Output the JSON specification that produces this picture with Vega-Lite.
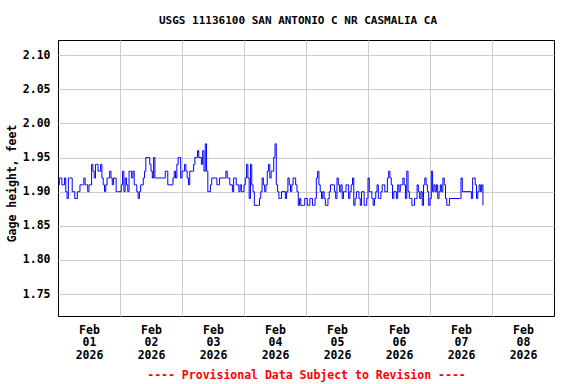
{
"$schema": "https://vega.github.io/schema/vega-lite/v6.json",
"width": 496, "height": 276,
"autosize": {"type": "none"},
"padding": {"left": 58, "top": 40, "right": 22, "bottom": 68},
"background": "white",
"config": {"font": "DejaVu Sans Mono", "view": {"stroke": "black", "strokeWidth": 1}},
"title": {"text": "USGS 11136100 SAN ANTONIO C NR CASMALIA CA", "font": "DejaVu Sans Mono", "fontSize": 11, "fontWeight": "bold", "color": "black", "offset": 14, "dx": -8},
"data": {"values": [
{"t":"2026-02-01T00:00:00Z","v":1.91},{"t":"2026-02-01T00:30:00Z","v":1.92},{"t":"2026-02-01T01:00:00Z","v":1.92},{"t":"2026-02-01T01:30:00Z","v":1.91},{"t":"2026-02-01T02:00:00Z","v":1.91},{"t":"2026-02-01T02:30:00Z","v":1.92},{"t":"2026-02-01T03:00:00Z","v":1.90},{"t":"2026-02-01T03:30:00Z","v":1.89},{"t":"2026-02-01T04:00:00Z","v":1.92},{"t":"2026-02-01T04:30:00Z","v":1.92},{"t":"2026-02-01T05:00:00Z","v":1.92},{"t":"2026-02-01T05:30:00Z","v":1.90},{"t":"2026-02-01T06:00:00Z","v":1.90},{"t":"2026-02-01T06:30:00Z","v":1.89},{"t":"2026-02-01T07:00:00Z","v":1.89},{"t":"2026-02-01T07:30:00Z","v":1.90},{"t":"2026-02-01T08:00:00Z","v":1.90},{"t":"2026-02-01T08:30:00Z","v":1.91},{"t":"2026-02-01T09:00:00Z","v":1.91},{"t":"2026-02-01T09:30:00Z","v":1.91},{"t":"2026-02-01T10:00:00Z","v":1.92},{"t":"2026-02-01T10:30:00Z","v":1.91},{"t":"2026-02-01T11:00:00Z","v":1.91},{"t":"2026-02-01T11:30:00Z","v":1.90},{"t":"2026-02-01T12:00:00Z","v":1.91},{"t":"2026-02-01T12:30:00Z","v":1.91},{"t":"2026-02-01T13:00:00Z","v":1.94},{"t":"2026-02-01T13:30:00Z","v":1.93},{"t":"2026-02-01T14:00:00Z","v":1.92},{"t":"2026-02-01T14:30:00Z","v":1.94},{"t":"2026-02-01T15:00:00Z","v":1.94},{"t":"2026-02-01T15:30:00Z","v":1.93},{"t":"2026-02-01T16:00:00Z","v":1.93},{"t":"2026-02-01T16:30:00Z","v":1.94},{"t":"2026-02-01T17:00:00Z","v":1.92},{"t":"2026-02-01T17:30:00Z","v":1.91},{"t":"2026-02-01T18:00:00Z","v":1.90},{"t":"2026-02-01T18:30:00Z","v":1.91},{"t":"2026-02-01T19:00:00Z","v":1.92},{"t":"2026-02-01T19:30:00Z","v":1.92},{"t":"2026-02-01T20:00:00Z","v":1.93},{"t":"2026-02-01T20:30:00Z","v":1.92},{"t":"2026-02-01T21:00:00Z","v":1.91},{"t":"2026-02-01T21:30:00Z","v":1.92},{"t":"2026-02-01T22:00:00Z","v":1.92},{"t":"2026-02-01T22:30:00Z","v":1.90},{"t":"2026-02-01T23:00:00Z","v":1.90},{"t":"2026-02-01T23:30:00Z","v":1.90},
{"t":"2026-02-02T00:00:00Z","v":1.90},{"t":"2026-02-02T00:30:00Z","v":1.91},{"t":"2026-02-02T01:00:00Z","v":1.93},{"t":"2026-02-02T01:30:00Z","v":1.90},{"t":"2026-02-02T02:00:00Z","v":1.92},{"t":"2026-02-02T02:30:00Z","v":1.91},{"t":"2026-02-02T03:00:00Z","v":1.90},{"t":"2026-02-02T03:30:00Z","v":1.93},{"t":"2026-02-02T04:00:00Z","v":1.93},{"t":"2026-02-02T04:30:00Z","v":1.92},{"t":"2026-02-02T05:00:00Z","v":1.93},{"t":"2026-02-02T05:30:00Z","v":1.91},{"t":"2026-02-02T06:00:00Z","v":1.91},{"t":"2026-02-02T06:30:00Z","v":1.90},{"t":"2026-02-02T07:00:00Z","v":1.89},{"t":"2026-02-02T07:30:00Z","v":1.90},{"t":"2026-02-02T08:00:00Z","v":1.91},{"t":"2026-02-02T08:30:00Z","v":1.91},{"t":"2026-02-02T09:00:00Z","v":1.92},{"t":"2026-02-02T09:30:00Z","v":1.93},{"t":"2026-02-02T10:00:00Z","v":1.95},{"t":"2026-02-02T10:30:00Z","v":1.95},{"t":"2026-02-02T11:00:00Z","v":1.95},{"t":"2026-02-02T11:30:00Z","v":1.94},{"t":"2026-02-02T12:00:00Z","v":1.93},{"t":"2026-02-02T12:30:00Z","v":1.92},{"t":"2026-02-02T13:00:00Z","v":1.95},{"t":"2026-02-02T13:30:00Z","v":1.92},{"t":"2026-02-02T14:00:00Z","v":1.92},{"t":"2026-02-02T15:00:00Z","v":1.92},{"t":"2026-02-02T16:00:00Z","v":1.92},{"t":"2026-02-02T17:00:00Z","v":1.92},{"t":"2026-02-02T17:30:00Z","v":1.93},{"t":"2026-02-02T18:00:00Z","v":1.93},{"t":"2026-02-02T18:30:00Z","v":1.91},{"t":"2026-02-02T19:00:00Z","v":1.91},{"t":"2026-02-02T20:00:00Z","v":1.91},{"t":"2026-02-02T20:30:00Z","v":1.92},{"t":"2026-02-02T21:00:00Z","v":1.93},{"t":"2026-02-02T21:30:00Z","v":1.92},{"t":"2026-02-02T22:00:00Z","v":1.94},{"t":"2026-02-02T22:30:00Z","v":1.95},{"t":"2026-02-02T23:00:00Z","v":1.95},{"t":"2026-02-02T23:30:00Z","v":1.92},
{"t":"2026-02-03T00:00:00Z","v":1.93},{"t":"2026-02-03T00:30:00Z","v":1.93},{"t":"2026-02-03T01:00:00Z","v":1.94},{"t":"2026-02-03T01:30:00Z","v":1.93},{"t":"2026-02-03T02:00:00Z","v":1.92},{"t":"2026-02-03T02:30:00Z","v":1.91},{"t":"2026-02-03T03:00:00Z","v":1.93},{"t":"2026-02-03T04:00:00Z","v":1.93},{"t":"2026-02-03T04:30:00Z","v":1.94},{"t":"2026-02-03T05:00:00Z","v":1.95},{"t":"2026-02-03T05:30:00Z","v":1.95},{"t":"2026-02-03T06:00:00Z","v":1.96},{"t":"2026-02-03T06:30:00Z","v":1.95},{"t":"2026-02-03T07:00:00Z","v":1.95},{"t":"2026-02-03T07:30:00Z","v":1.94},{"t":"2026-02-03T08:00:00Z","v":1.96},{"t":"2026-02-03T08:30:00Z","v":1.93},{"t":"2026-02-03T09:00:00Z","v":1.97},{"t":"2026-02-03T09:30:00Z","v":1.93},{"t":"2026-02-03T10:00:00Z","v":1.90},{"t":"2026-02-03T10:30:00Z","v":1.90},{"t":"2026-02-03T11:00:00Z","v":1.91},{"t":"2026-02-03T11:30:00Z","v":1.92},{"t":"2026-02-03T13:00:00Z","v":1.92},{"t":"2026-02-03T13:30:00Z","v":1.91},{"t":"2026-02-03T14:00:00Z","v":1.91},{"t":"2026-02-03T14:30:00Z","v":1.92},{"t":"2026-02-03T16:30:00Z","v":1.92},{"t":"2026-02-03T17:00:00Z","v":1.93},{"t":"2026-02-03T17:30:00Z","v":1.92},{"t":"2026-02-03T18:00:00Z","v":1.92},{"t":"2026-02-03T18:30:00Z","v":1.91},{"t":"2026-02-03T19:00:00Z","v":1.91},{"t":"2026-02-03T19:30:00Z","v":1.90},{"t":"2026-02-03T20:00:00Z","v":1.92},{"t":"2026-02-03T20:30:00Z","v":1.92},{"t":"2026-02-03T21:00:00Z","v":1.91},{"t":"2026-02-03T21:30:00Z","v":1.91},{"t":"2026-02-03T22:00:00Z","v":1.90},{"t":"2026-02-03T22:30:00Z","v":1.91},{"t":"2026-02-03T23:00:00Z","v":1.90},{"t":"2026-02-03T23:30:00Z","v":1.90},
{"t":"2026-02-04T00:00:00Z","v":1.91},{"t":"2026-02-04T00:30:00Z","v":1.92},{"t":"2026-02-04T01:00:00Z","v":1.94},{"t":"2026-02-04T01:30:00Z","v":1.92},{"t":"2026-02-04T02:00:00Z","v":1.89},{"t":"2026-02-04T02:30:00Z","v":1.94},{"t":"2026-02-04T03:00:00Z","v":1.91},{"t":"2026-02-04T03:30:00Z","v":1.90},{"t":"2026-02-04T04:00:00Z","v":1.88},{"t":"2026-02-04T05:30:00Z","v":1.88},{"t":"2026-02-04T06:00:00Z","v":1.89},{"t":"2026-02-04T06:30:00Z","v":1.90},{"t":"2026-02-04T07:00:00Z","v":1.92},{"t":"2026-02-04T07:30:00Z","v":1.91},{"t":"2026-02-04T08:00:00Z","v":1.90},{"t":"2026-02-04T08:30:00Z","v":1.91},{"t":"2026-02-04T09:00:00Z","v":1.93},{"t":"2026-02-04T09:30:00Z","v":1.94},{"t":"2026-02-04T10:00:00Z","v":1.92},{"t":"2026-02-04T10:30:00Z","v":1.93},{"t":"2026-02-04T11:00:00Z","v":1.93},{"t":"2026-02-04T11:30:00Z","v":1.95},{"t":"2026-02-04T12:00:00Z","v":1.97},{"t":"2026-02-04T12:30:00Z","v":1.91},{"t":"2026-02-04T13:00:00Z","v":1.90},{"t":"2026-02-04T13:30:00Z","v":1.89},{"t":"2026-02-04T14:00:00Z","v":1.89},{"t":"2026-02-04T14:30:00Z","v":1.90},{"t":"2026-02-04T15:30:00Z","v":1.90},{"t":"2026-02-04T16:00:00Z","v":1.89},{"t":"2026-02-04T16:30:00Z","v":1.90},{"t":"2026-02-04T17:00:00Z","v":1.92},{"t":"2026-02-04T17:30:00Z","v":1.91},{"t":"2026-02-04T18:00:00Z","v":1.90},{"t":"2026-02-04T18:30:00Z","v":1.91},{"t":"2026-02-04T19:00:00Z","v":1.92},{"t":"2026-02-04T19:30:00Z","v":1.92},{"t":"2026-02-04T20:00:00Z","v":1.91},{"t":"2026-02-04T20:30:00Z","v":1.90},{"t":"2026-02-04T21:00:00Z","v":1.88},{"t":"2026-02-04T21:30:00Z","v":1.89},{"t":"2026-02-04T22:00:00Z","v":1.88},{"t":"2026-02-04T23:00:00Z","v":1.88},{"t":"2026-02-04T23:30:00Z","v":1.89},
{"t":"2026-02-05T00:00:00Z","v":1.89},{"t":"2026-02-05T00:30:00Z","v":1.88},{"t":"2026-02-05T01:00:00Z","v":1.88},{"t":"2026-02-05T01:30:00Z","v":1.89},{"t":"2026-02-05T02:00:00Z","v":1.89},{"t":"2026-02-05T02:30:00Z","v":1.88},{"t":"2026-02-05T03:00:00Z","v":1.88},{"t":"2026-02-05T03:30:00Z","v":1.89},{"t":"2026-02-05T04:00:00Z","v":1.92},{"t":"2026-02-05T04:30:00Z","v":1.93},{"t":"2026-02-05T05:00:00Z","v":1.91},{"t":"2026-02-05T05:30:00Z","v":1.90},{"t":"2026-02-05T06:00:00Z","v":1.89},{"t":"2026-02-05T06:30:00Z","v":1.90},{"t":"2026-02-05T07:00:00Z","v":1.89},{"t":"2026-02-05T07:30:00Z","v":1.88},{"t":"2026-02-05T08:00:00Z","v":1.88},{"t":"2026-02-05T08:30:00Z","v":1.89},{"t":"2026-02-05T09:00:00Z","v":1.90},{"t":"2026-02-05T09:30:00Z","v":1.91},{"t":"2026-02-05T10:30:00Z","v":1.91},{"t":"2026-02-05T11:00:00Z","v":1.90},{"t":"2026-02-05T11:30:00Z","v":1.89},{"t":"2026-02-05T12:00:00Z","v":1.92},{"t":"2026-02-05T12:30:00Z","v":1.91},{"t":"2026-02-05T13:00:00Z","v":1.90},{"t":"2026-02-05T13:30:00Z","v":1.91},{"t":"2026-02-05T14:00:00Z","v":1.89},{"t":"2026-02-05T14:30:00Z","v":1.90},{"t":"2026-02-05T15:00:00Z","v":1.90},{"t":"2026-02-05T15:30:00Z","v":1.91},{"t":"2026-02-05T16:00:00Z","v":1.91},{"t":"2026-02-05T16:30:00Z","v":1.89},{"t":"2026-02-05T17:00:00Z","v":1.90},{"t":"2026-02-05T17:30:00Z","v":1.91},{"t":"2026-02-05T18:00:00Z","v":1.92},{"t":"2026-02-05T18:30:00Z","v":1.88},{"t":"2026-02-05T19:00:00Z","v":1.89},{"t":"2026-02-05T19:30:00Z","v":1.90},{"t":"2026-02-05T20:00:00Z","v":1.90},{"t":"2026-02-05T20:30:00Z","v":1.89},{"t":"2026-02-05T21:00:00Z","v":1.88},{"t":"2026-02-05T21:30:00Z","v":1.90},{"t":"2026-02-05T22:00:00Z","v":1.90},{"t":"2026-02-05T22:30:00Z","v":1.88},{"t":"2026-02-05T23:00:00Z","v":1.88},{"t":"2026-02-05T23:30:00Z","v":1.89},
{"t":"2026-02-06T00:00:00Z","v":1.92},{"t":"2026-02-06T00:30:00Z","v":1.90},{"t":"2026-02-06T01:00:00Z","v":1.90},{"t":"2026-02-06T01:30:00Z","v":1.89},{"t":"2026-02-06T02:00:00Z","v":1.88},{"t":"2026-02-06T02:30:00Z","v":1.89},{"t":"2026-02-06T03:00:00Z","v":1.90},{"t":"2026-02-06T03:30:00Z","v":1.91},{"t":"2026-02-06T04:00:00Z","v":1.89},{"t":"2026-02-06T04:30:00Z","v":1.89},{"t":"2026-02-06T05:00:00Z","v":1.90},{"t":"2026-02-06T05:30:00Z","v":1.91},{"t":"2026-02-06T06:00:00Z","v":1.91},{"t":"2026-02-06T06:30:00Z","v":1.90},{"t":"2026-02-06T07:00:00Z","v":1.90},{"t":"2026-02-06T07:30:00Z","v":1.92},{"t":"2026-02-06T08:00:00Z","v":1.93},{"t":"2026-02-06T08:30:00Z","v":1.92},{"t":"2026-02-06T09:00:00Z","v":1.91},{"t":"2026-02-06T09:30:00Z","v":1.89},{"t":"2026-02-06T10:00:00Z","v":1.90},{"t":"2026-02-06T10:30:00Z","v":1.90},{"t":"2026-02-06T11:00:00Z","v":1.89},{"t":"2026-02-06T11:30:00Z","v":1.91},{"t":"2026-02-06T12:00:00Z","v":1.90},{"t":"2026-02-06T12:30:00Z","v":1.91},{"t":"2026-02-06T13:00:00Z","v":1.91},{"t":"2026-02-06T13:30:00Z","v":1.92},{"t":"2026-02-06T14:00:00Z","v":1.91},{"t":"2026-02-06T14:30:00Z","v":1.89},{"t":"2026-02-06T15:00:00Z","v":1.93},{"t":"2026-02-06T15:30:00Z","v":1.90},{"t":"2026-02-06T16:00:00Z","v":1.89},{"t":"2026-02-06T16:30:00Z","v":1.89},{"t":"2026-02-06T17:00:00Z","v":1.88},{"t":"2026-02-06T17:30:00Z","v":1.88},{"t":"2026-02-06T18:00:00Z","v":1.89},{"t":"2026-02-06T18:30:00Z","v":1.89},{"t":"2026-02-06T19:00:00Z","v":1.91},{"t":"2026-02-06T19:30:00Z","v":1.90},{"t":"2026-02-06T20:00:00Z","v":1.89},{"t":"2026-02-06T20:30:00Z","v":1.90},{"t":"2026-02-06T21:00:00Z","v":1.88},{"t":"2026-02-06T21:30:00Z","v":1.91},{"t":"2026-02-06T22:00:00Z","v":1.92},{"t":"2026-02-06T22:30:00Z","v":1.91},{"t":"2026-02-06T23:00:00Z","v":1.90},{"t":"2026-02-06T23:30:00Z","v":1.88},
{"t":"2026-02-07T00:00:00Z","v":1.89},{"t":"2026-02-07T00:30:00Z","v":1.93},{"t":"2026-02-07T01:00:00Z","v":1.90},{"t":"2026-02-07T01:30:00Z","v":1.91},{"t":"2026-02-07T02:00:00Z","v":1.90},{"t":"2026-02-07T02:30:00Z","v":1.91},{"t":"2026-02-07T03:00:00Z","v":1.89},{"t":"2026-02-07T03:30:00Z","v":1.90},{"t":"2026-02-07T04:00:00Z","v":1.91},{"t":"2026-02-07T04:30:00Z","v":1.90},{"t":"2026-02-07T05:00:00Z","v":1.92},{"t":"2026-02-07T05:30:00Z","v":1.91},{"t":"2026-02-07T06:00:00Z","v":1.89},{"t":"2026-02-07T06:30:00Z","v":1.88},{"t":"2026-02-07T07:00:00Z","v":1.88},{"t":"2026-02-07T07:30:00Z","v":1.89},{"t":"2026-02-07T11:30:00Z","v":1.89},{"t":"2026-02-07T12:00:00Z","v":1.92},{"t":"2026-02-07T12:30:00Z","v":1.90},{"t":"2026-02-07T16:00:00Z","v":1.89},{"t":"2026-02-07T16:30:00Z","v":1.92},{"t":"2026-02-07T17:00:00Z","v":1.92},{"t":"2026-02-07T17:30:00Z","v":1.91},{"t":"2026-02-07T18:00:00Z","v":1.89},{"t":"2026-02-07T18:30:00Z","v":1.90},{"t":"2026-02-07T19:00:00Z","v":1.91},{"t":"2026-02-07T19:30:00Z","v":1.90},{"t":"2026-02-07T20:00:00Z","v":1.91},{"t":"2026-02-07T20:30:00Z","v":1.88}
]},
"mark": {"type": "line", "color": "#0000ff", "strokeWidth": 1, "interpolate": "step-after", "clip": true},
"encoding": {
"x": {"field": "t", "type": "temporal",
 "scale": {"type": "utc", "domain": [{"year": 2026, "month": 2, "date": 1, "utc": true}, {"year": 2026, "month": 2, "date": 9, "utc": true}]},
 "axis": {
  "values": [{"year": 2026, "month": 2, "date": 1, "utc": true},{"year": 2026, "month": 2, "date": 2, "utc": true},{"year": 2026, "month": 2, "date": 3, "utc": true},{"year": 2026, "month": 2, "date": 4, "utc": true},{"year": 2026, "month": 2, "date": 5, "utc": true},{"year": 2026, "month": 2, "date": 6, "utc": true},{"year": 2026, "month": 2, "date": 7, "utc": true},{"year": 2026, "month": 2, "date": 8, "utc": true}],
  "grid": true,
  "gridColor": {"condition": {"test": "utcdate(datum.value) == 1", "value": "black"}, "value": "#cccccc"},
  "ticks": false, "domain": false,
  "labelExpr": "[utcFormat(datum.value, '%b'), utcFormat(datum.value, '%d'), utcFormat(datum.value, '%Y')]",
  "labelOffset": 31, "labelPadding": 8, "labelFontSize": 11.5, "labelFontWeight": "bold", "labelColor": "black",
  "labelLineHeight": 12.7, "labelBaseline": "top", "labelFlush": false, "labelOverlap": false, "labelBound": false,
  "title": "---- Provisional Data Subject to Revision ----", "titleColor": "#ff0000", "titleFontSize": 11.5, "titleFontWeight": "bold", "titlePadding": 9
 }},
"y": {"field": "v", "type": "quantitative",
 "scale": {"domain": [1.718, 2.122], "nice": false, "zero": false},
 "axis": {
  "values": [1.75, 1.8, 1.85, 1.9, 1.95, 2.0, 2.05, 2.1], "format": ".2f",
  "grid": true, "gridColor": "#cccccc", "ticks": false, "domain": false,
  "labelPadding": 8, "labelFontSize": 11.5, "labelFontWeight": "bold", "labelColor": "black",
  "title": "Gage height, feet", "titleFontSize": 11.5, "titleFontWeight": "bold", "titleColor": "black", "titlePadding": 5, "titleY": 143
 }}
}
}
